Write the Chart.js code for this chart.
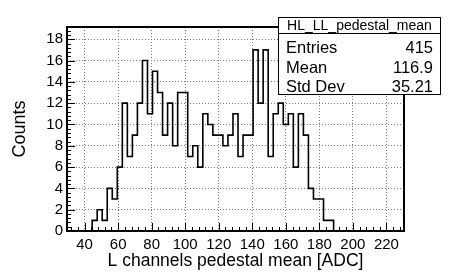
<!DOCTYPE html>
<html>
<head>
<meta charset="utf-8">
<script src="https://cdn.jsdelivr.net/npm/chart.js@4.4.1/dist/chart.umd.min.js"></script>
<style>
    html, body { margin: 0; padding: 0; background: #fff; }
    canvas { display: block; }
</style>
</head>
<body>
<canvas id="hist" width="449" height="274"></canvas>
<script>
'use strict';

// bin layout and contents
const binLow = 44.5;
const binWidth = 3;
const counts = [1, 2, 1, 4, 3, 6, 12, 7, 9, 12, 16, 11, 15, 13, 9, 12, 8, 13,
    13, 7, 8, 6, 11, 10, 9, 9, 8, 9, 11, 7, 9, 9, 17, 12, 17, 7, 11, 12,
    10, 11, 6, 11, 9, 4, 3, 3, 1, 1];

const xRange = [29.5, 230.5];
const yRange = [0, 19.15];
const xTicks = [40, 60, 80, 100, 120, 140, 160, 180, 200, 220];
const yTicks = [0, 2, 4, 6, 8, 10, 12, 14, 16, 18];

const statsTitle = 'HL_LL_pedestal_mean';
const statsNames = ['Entries', 'Mean', 'Std Dev'];
const statsValues = ['415', '116.9', '35.21'];

const FONT = 'Liberation Sans, Arial, Helvetica, sans-serif';

// outline points for a stepped line: left edge of every bin, then back to zero
const points = [{ x: xRange[0], y: 0 }];
counts.forEach((c, i) => {
    points.push({ x: binLow + i * binWidth, y: c });
});
points.push({ x: binLow + counts.length * binWidth, y: 0 });
points.push({ x: xRange[1], y: 0 });

/**
 * ROOT style frame with ticks pointing inwards.
 */
const rootFrame = {
    id: 'rootFrame',
    afterDatasetsDraw(chart) {
        const { ctx, chartArea: a, scales: { x, y } } = chart;
        ctx.save();
        ctx.strokeStyle = '#000';
        ctx.lineWidth = 1;
        ctx.beginPath();
        // x: major every 20, minor every 4
        for (let v = 32; v <= xRange[1]; v += 4) {
            const px = Math.round(x.getPixelForValue(v)) + 0.5;
            const len = v % 20 === 0 ? 8 : 4;
            ctx.moveTo(px, a.bottom);
            ctx.lineTo(px, a.bottom - len);
        }
        // y: major every 2, minor every 0.4
        for (let i = 0; i * 0.4 <= yRange[1]; i++) {
            const py = Math.round(y.getPixelForValue(i * 0.4)) + 0.5;
            const len = i % 5 === 0 ? 8 : 4;
            ctx.moveTo(a.left, py);
            ctx.lineTo(a.left + len, py);
        }
        ctx.stroke();
        ctx.lineWidth = 2;
        ctx.strokeRect(a.left, a.top, a.right - a.left, a.bottom - a.top);
        ctx.restore();
    }
};

/**
 * Statistics box in the top right corner.
 */
const statsBox = {
    id: 'statsBox',
    afterDraw(chart) {
        const ctx = chart.ctx;
        const left = 278.5, right = 440.5, top = 17.5, bottom = 94.5, sep = 33.5;
        ctx.save();
        ctx.fillStyle = '#fff';
        ctx.fillRect(left, top, right - left, bottom - top);
        ctx.strokeStyle = '#000';
        ctx.lineWidth = 1;
        ctx.strokeRect(left, top, right - left, bottom - top);
        ctx.beginPath();
        ctx.moveTo(left, sep);
        ctx.lineTo(right, sep);
        ctx.stroke();

        ctx.fillStyle = '#000';
        ctx.textBaseline = 'alphabetic';
        ctx.font = '14px ' + FONT;
        ctx.textAlign = 'center';
        ctx.fillText(statsTitle, (left + right) / 2, 29.5);

        ctx.font = '16.5px ' + FONT;
        const baselines = [53, 72.5, 91.5];
        statsNames.forEach((name, i) => {
            ctx.textAlign = 'left';
            ctx.fillText(name, 286, baselines[i]);
            ctx.textAlign = 'right';
            ctx.fillText(statsValues[i], 433, baselines[i]);
        });
        ctx.restore();
    }
};

new Chart(document.getElementById('hist'), {
    type: 'line',
    data: {
        datasets: [{
            data: points,
            stepped: 'before',
            borderColor: '#000',
            borderWidth: 1.6,
            pointRadius: 0,
            fill: false
        }]
    },
    options: {
        responsive: false,
        animation: false,
        devicePixelRatio: 1,
        layout: {
            padding: { top: 27, right: 45, left: 0, bottom: 0 }
        },
        plugins: {
            legend: { display: false },
            tooltip: { enabled: false }
        },
        scales: {
            x: {
                type: 'linear',
                min: xRange[0],
                max: xRange[1],
                afterBuildTicks(scale) {
                    scale.ticks = xTicks.map(v => ({ value: v }));
                },
                afterFit(scale) {
                    scale.height = 43;
                },
                grid: { color: '#777', lineWidth: 1, drawTicks: false },
                border: { display: false, dash: [1, 2] },
                ticks: {
                    color: '#000',
                    font: { family: FONT, size: 15 },
                    padding: 5,
                    maxRotation: 0,
                    autoSkip: false
                },
                title: {
                    display: true,
                    text: 'L channels pedestal mean [ADC]',
                    color: '#000',
                    font: { family: FONT, size: 17.5 },
                    padding: { top: 0, bottom: 2 }
                }
            },
            y: {
                type: 'linear',
                min: yRange[0],
                max: yRange[1],
                afterBuildTicks(scale) {
                    scale.ticks = yTicks.map(v => ({ value: v }));
                },
                afterFit(scale) {
                    scale.width = 67;
                },
                grid: { color: '#777', lineWidth: 1, drawTicks: false },
                border: { display: false, dash: [1, 2] },
                ticks: {
                    color: '#000',
                    font: { family: FONT, size: 15 },
                    padding: 4,
                    autoSkip: false
                },
                title: {
                    display: true,
                    text: 'Counts',
                    color: '#000',
                    font: { family: FONT, size: 18 },
                    padding: { top: 9, bottom: 0 }
                }
            }
        }
    },
    plugins: [rootFrame, statsBox]
});
</script>
</body>
</html>
